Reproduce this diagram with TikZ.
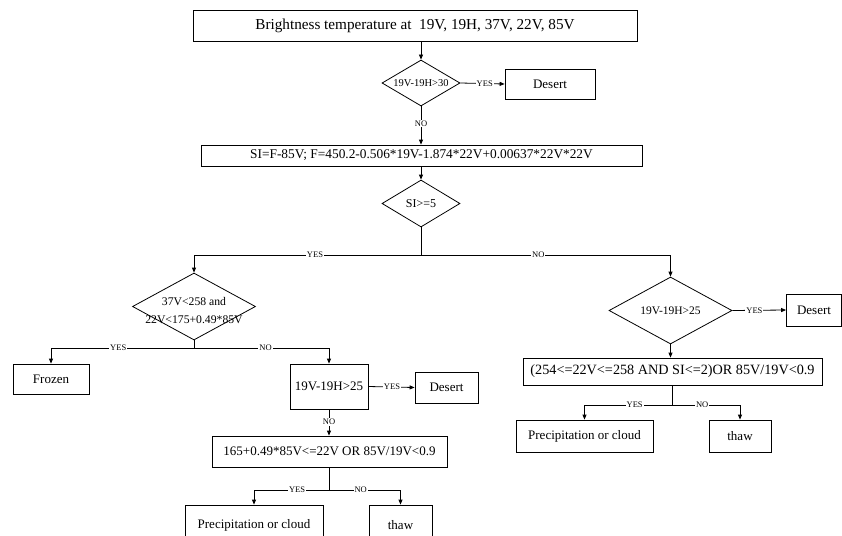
\documentclass[tikz,border=0pt]{standalone}
\usepackage{fontspec}
\setmainfont{Liberation Serif}
\usetikzlibrary{shapes.geometric,arrows.meta}
\begin{document}
\begin{tikzpicture}[x=1pt,y=-1pt,
  box/.style={draw, line width=0.8pt, rectangle, inner sep=0pt, align=center, font=\fontsize{13}{15}\selectfont},
  dia/.style={draw, line width=0.8pt, diamond, inner sep=0pt},
  dtxt/.style={inner sep=0pt, font=\fontsize{10.5}{12}\selectfont},
  conn/.style={line width=0.8pt},
  arr/.style={line width=0.8pt, -{Triangle[length=5pt,width=4pt]}},
  lbl/.style={fill=white, inner sep=1pt, font=\fontsize{8.5}{9}\selectfont}]
\useasboundingbox (0,0) rectangle (842,535);
% nodes
\node[box, minimum width=444, minimum height=31, font=\fontsize{15.2}{17}\selectfont] (top) at (415,25.5) {Brightness temperature at\ \ 19V, 19H, 37V, 22V, 85V};
\node[dia, minimum width=78, minimum height=46] (d1) at (421,83) {};
\node[dtxt] (t1) at (d1) {19V-19H>30};
\node[box, minimum width=90, minimum height=30] (des1) at (550,84) {Desert};
\node[box, minimum width=441, minimum height=21, font=\fontsize{13.35}{15}\selectfont] (si) at (421.5,155.5) {SI=F-85V; F=450.2-0.506*19V-1.874*22V+0.00637*22V*22V};
\node[dia, minimum width=78, minimum height=47] (d2) at (421,203.5) {};
\node[dtxt, font=\fontsize{12}{14}\selectfont] (t2) at (d2) {SI>=5};
\coordinate (s2) at (421,255);
\node[dia, minimum width=123, minimum height=67] (d3) at (194,306.5) {};
\node[dtxt, font=\fontsize{11.7}{14}\selectfont] (t3a) at (194,302) {37V<258 and};
\node[dtxt, font=\fontsize{11.7}{14}\selectfont] (t3b) at (194,320) {22V<175+0.49*85V};
\coordinate (s3) at (194,348);
\node[box, minimum width=76, minimum height=30] (frozen) at (51,379) {Frozen};
\node[box, minimum width=78, minimum height=45] (b25) at (329,386.5) {19V-19H>25};
\node[box, minimum width=63, minimum height=31] (des2) at (446.5,387.5) {Desert};
\node[box, minimum width=235, minimum height=31] (c1) at (329.5,451.5) {165+0.49*85V<=22V OR 85V/19V<0.9};
\coordinate (s4) at (329.5,490);
\node[box, minimum width=138, minimum height=40] (pc1) at (254,525) {Precipitation or cloud};
\node[box, minimum width=63, minimum height=40] (th1) at (400.5,525) {thaw};
\node[dia, minimum width=123, minimum height=67] (d4) at (670.5,310.5) {};
\node[dtxt, font=\fontsize{11.5}{13}\selectfont] (t4) at (d4) {19V-19H>25};
\node[box, minimum width=55, minimum height=32] (des3) at (814,310) {Desert};
\node[box, minimum width=299, minimum height=27, font=\fontsize{14.2}{16}\selectfont] (c2) at (672.5,371.5) {(254<=22V<=258 AND SI<=2)OR 85V/19V<0.9};
\coordinate (s5) at (672.5,405);
\node[box, minimum width=137, minimum height=32] (pc2) at (584.5,436) {Precipitation or cloud};
\node[box, minimum width=62, minimum height=32] (th2) at (740,436) {thaw};
% connectors
\draw[arr] (d1.north |- top.south) -- (d1.north);
\draw[arr] (d1.east) -- node[lbl, pos=0.55]{YES} (des1.west);
\draw[arr] (d1.south) -- node[lbl, pos=0.45]{NO} (si.north -| d1.south);
\draw[arr] (d2.north |- si.south) -- (d2.north);
\draw[conn] (d2.south) -- (s2);
\draw[arr] (s2) -- node[lbl, pos=0.467]{YES} (d3.north |- s2) -- (d3.north);
\draw[arr] (s2) -- node[lbl, pos=0.47]{NO} (d4.north |- s2) -- (d4.north);
\draw[conn] (d3.south) -- (s3);
\draw[arr] (s3) -- node[lbl, pos=0.53]{YES} (frozen.north |- s3) -- (frozen.north);
\draw[arr] (s3) -- node[lbl, pos=0.53]{NO} (b25.north |- s3) -- (b25.north);
\draw[arr] (b25.east) -- node[lbl, pos=0.51]{YES} (des2.west);
\draw[arr] (b25.south) -- node[lbl, pos=0.48]{NO} (c1.north -| b25.south);
\draw[conn] (c1.south) -- (s4);
\draw[arr] (s4) -- node[lbl, pos=0.43]{YES} (pc1.north |- s4) -- (pc1.north);
\draw[arr] (s4) -- node[lbl, pos=0.44]{NO} (th1.north |- s4) -- (th1.north);
\draw[arr] (d4.east) -- node[lbl, pos=0.41]{YES} (des3.west);
\draw[arr] (d4.south) -- (c2.north -| d4.south);
\draw[conn] (c2.south) -- (s5);
\draw[arr] (s5) -- node[lbl, pos=0.43]{YES} (pc2.north |- s5) -- (pc2.north);
\draw[arr] (s5) -- node[lbl, pos=0.44]{NO} (th2.north |- s5) -- (th2.north);
\end{tikzpicture}
\end{document}
